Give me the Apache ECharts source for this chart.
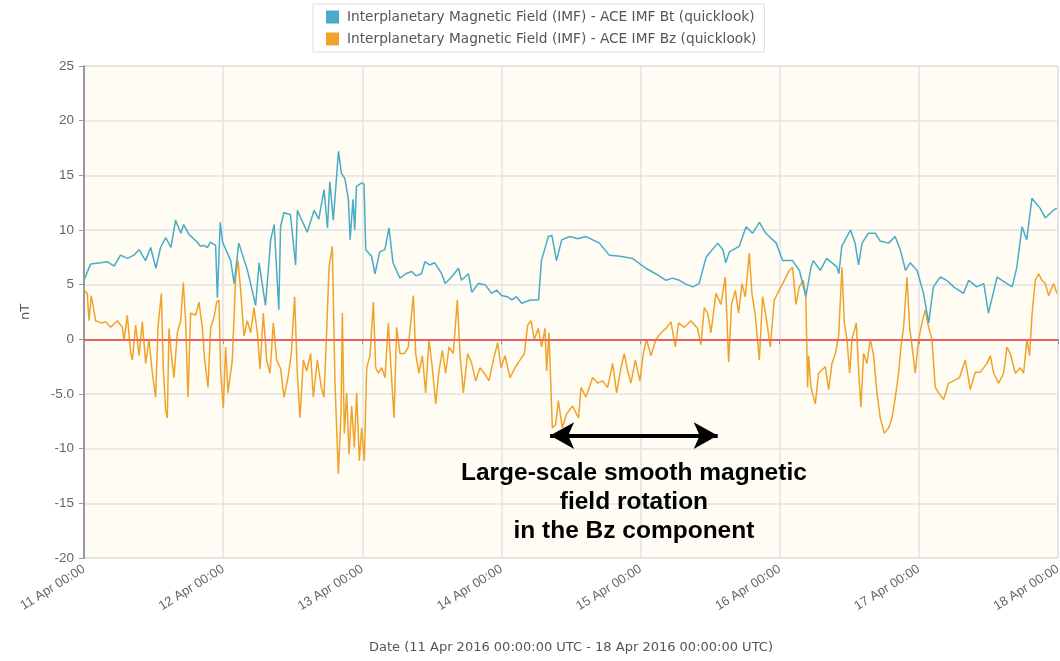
<!DOCTYPE html>
<html>
<head>
<meta charset="utf-8">
<script src="https://cdn.jsdelivr.net/npm/echarts@6/dist/echarts.min.js"></script>
<style>html,body{margin:0;padding:0;background:#fff;overflow:hidden}#c{width:1060px;height:661px}</style>
</head>
<body>
<div id="c"></div>
<script>
// hours since 11 Apr 2016 00:00 UTC, value in nT
const btData = [
[0,5.4],[1.15,6.9],[2.9,7.0],[4.0,7.1],[5.2,6.7],[6.3,7.7],[7.5,7.4],[8.6,7.7],[9.5,8.2],[10.6,7.2],[11.5,8.4],[12.4,6.5],[13.2,8.4],[14.1,9.3],[15,8.4],[15.8,10.9],[16.1,11.0],[16.7,9.7],[17.2,10.5],[18.1,9.6],[19.5,8.9],[20.1,8.5],[20.7,8.6],[21.3,8.4],[21.8,8.9],[22.7,8.6],[23,3.8],[23.5,10.7],[23.9,8.9],[25.3,7.2],[25.9,5.1],[26.7,8.8],[28.2,6.3],[29.6,3.1],[30.2,7.0],[31.3,3.1],[32.2,9.1],[32.8,10.5],[33.6,2.7],[33.9,10.3],[34.5,11.6],[35.6,11.4],[36.5,6.8],[36.8,11.8],[38.5,9.8],[39.7,11.8],[40.5,11.0],[41.4,13.7],[42,10.2],[42.4,14.4],[43,10.9],[43.9,17.2],[44.4,15.2],[45,14.7],[45.6,12.8],[45.9,9.1],[46.4,12.8],[46.7,10.0],[47,14.0],[47.9,14.3],[48.3,14.2],[48.6,8.2],[49.6,7.6],[50.2,6.0],[51,8.0],[51.9,8.2],[52.6,10.2],[53.3,7.0],[54.5,5.6],[55.5,6.0],[56.5,6.2],[57.3,5.8],[58.2,6.0],[58.8,7.1],[59.6,6.8],[60.5,7.0],[61.7,6.0],[62.3,5.1],[63.4,5.7],[64.6,6.5],[65.1,5.4],[66.3,6.0],[66.9,4.3],[68,5.1],[69.2,5.0],[70.3,4.2],[71.2,4.5],[72,4.0],[73,3.9],[73.8,3.6],[74.6,3.9],[75.5,3.3],[77,3.6],[78.4,3.6],[78.9,7.2],[80.1,9.4],[80.7,9.5],[81.5,7.2],[82.4,9.1],[83.8,9.4],[85.2,9.2],[86.6,9.4],[88.9,8.8],[90.6,7.7],[92.5,7.6],[94.6,7.4],[96.9,6.5],[98.6,6.0],[100.4,5.4],[101.5,5.6],[102.7,5.4],[104,5.0],[105,4.8],[106.1,5.1],[107.3,7.5],[109.3,8.8],[110.2,8.2],[110.7,7.0],[111.3,8.0],[113,8.5],[114.2,10.3],[115.3,9.7],[116.5,10.7],[117.6,9.7],[119.4,8.8],[120.5,7.2],[122.2,7.2],[123.4,6.3],[124.5,3.9],[125.4,6.6],[125.8,7.2],[127,6.3],[128.1,7.4],[129.9,6.6],[130.2,6.0],[130.7,8.5],[132.2,10.0],[133,8.8],[133.6,6.8],[134.2,8.8],[135.3,9.7],[136.5,9.7],[137.3,9.0],[138.8,8.8],[139.9,9.4],[140.8,8.2],[141.7,6.3],[142.5,7.0],[143.7,6.3],[144.8,4.2],[145.7,1.5],[146.5,4.8],[147.7,5.7],[148.8,5.4],[150,4.8],[151.7,4.2],[152.6,5.4],[154,4.8],[155.2,5.1],[156,2.4],[157.5,5.7],[159.2,5.1],[160.1,4.8],[160.9,6.6],[161.8,10.3],[162.6,9.1],[163.5,12.9],[164.9,12.0],[165.8,11.1],[167.2,11.8],[167.8,12.0]
];
const bzData = [
[0,4.5],[0.57,4.2],[0.86,1.7],[1.26,4.0],[2.01,1.7],[2.87,1.5],[3.74,1.6],[4.6,1.1],[5.75,1.7],[6.61,1.1],[6.9,-0.1],[7.47,2.2],[8.05,-1.3],[8.34,-1.9],[8.91,1.3],[9.49,-1.5],[10.06,1.6],[10.64,-2.2],[11.21,0],[11.79,-3.1],[12.36,-5.3],[12.76,1.1],[13.34,4.2],[13.68,-2.7],[14.09,-6.5],[14.37,-7.2],[14.66,1.0],[15.06,-1.3],[15.52,-3.5],[16.1,0.6],[16.67,1.7],[17.13,5.2],[17.53,1.7],[17.94,-5.3],[18.4,2.4],[19.26,2.2],[19.83,3.4],[20.41,1.1],[20.81,-1.9],[21.39,-4.4],[21.85,1.1],[22.42,2.0],[22.88,3.4],[23.28,3.6],[23.57,-2.9],[24.03,-6.3],[24.43,-0.7],[24.84,-4.9],[25.58,-1.9],[26.16,5.7],[26.56,7.2],[27.02,4.5],[27.6,0.3],[28.17,1.7],[28.75,0.6],[29.32,2.9],[29.9,0.6],[30.36,-2.7],[30.93,2.4],[31.51,-1.9],[32.08,-3.1],[32.66,1.5],[33.23,-1.9],[33.92,-2.7],[34.5,-5.3],[35.18,-3.5],[35.76,-1.3],[36.33,3.9],[36.79,-3.1],[37.25,-7.2],[37.83,-1.9],[38.4,-2.9],[39.09,-1.3],[39.55,-5.3],[40.24,-1.9],[40.93,-4.4],[41.39,-5.3],[41.85,0.6],[42.26,6.6],[42.83,8.5],[43.29,-4.0],[43.87,-12.3],[44.33,-6.8],[44.56,2.4],[44.9,-8.6],[45.31,-4.9],[45.71,-10.5],[46.17,-6.1],[46.63,-9.9],[47.03,-4.9],[47.49,-11.1],[47.89,-8.1],[48.35,-11.1],[48.76,-2.6],[49.33,-1.5],[49.91,3.4],[50.31,-2.6],[50.77,-3.1],[51.34,-2.6],[51.92,-3.5],[52.49,1.5],[52.95,-2.6],[53.47,-7.2],[53.93,1.1],[54.5,-1.3],[55.25,-1.3],[55.94,-0.7],[56.81,4.0],[57.21,-1.3],[57.78,-3.1],[58.36,-1.5],[58.93,-4.9],[59.51,0],[60.08,-2.6],[60.66,-5.9],[61.23,-2.9],[61.81,-1.0],[62.38,-3.1],[62.96,-0.7],[63.7,-1.3],[64.39,3.6],[64.85,-1.3],[65.43,-4.9],[66.18,-1.3],[66.87,-2.2],[67.56,-3.8],[68.3,-2.6],[69.05,-3.1],[69.86,-3.8],[70.6,-1.9],[71.35,-0.3],[71.93,-2.6],[72.62,-1.5],[73.48,-3.5],[74.34,-2.6],[75.2,-1.9],[75.95,-1.3],[76.53,1.3],[77.1,1.7],[77.68,0],[78.36,1.0],[78.94,-0.7],[79.51,1.0],[79.8,-2.9],[80.2,0.6],[80.78,-8.1],[81.35,-7.8],[81.81,-5.6],[82.5,-8.1],[83.25,-6.8],[84.28,-6.1],[85.31,-7.2],[85.72,-4.4],[86.58,-5.3],[87.73,-3.5],[88.59,-4.0],[89.45,-3.8],[90.32,-4.4],[91.18,-2.2],[91.87,-4.9],[92.62,-2.6],[93.19,-1.3],[93.77,-2.9],[94.34,-4.0],[95.09,-1.9],[95.89,-3.8],[96.47,-1.3],[97.04,0],[97.79,-1.5],[98.65,0],[99.52,0.6],[100.38,1.0],[101.24,1.6],[101.99,-0.7],[102.56,1.5],[103.54,1.1],[104.69,1.7],[105.84,1.0],[106.41,-0.5],[106.99,2.9],[107.56,2.4],[108.14,0.6],[109.0,4.2],[109.86,3.2],[110.61,5.7],[111.19,-2.1],[111.7,3.2],[112.34,4.5],[112.91,2.4],[113.49,5.1],[114.06,3.9],[114.75,7.9],[115.21,4.2],[115.79,2.2],[116.48,-1.9],[117.05,3.9],[117.62,2.2],[118.37,-0.7],[119.06,3.6],[119.92,4.5],[120.79,5.4],[121.65,6.3],[122.22,6.6],[122.8,3.2],[123.37,4.8],[124.06,5.4],[124.5,4.0],[124.81,-4.4],[124.99,-1.5],[125.39,-4.4],[126.14,-5.9],[126.71,-3.1],[127.29,-2.8],[127.86,-2.5],[128.44,-4.6],[129.01,-2.2],[129.59,-1.3],[130.16,0.3],[130.74,6.6],[131.14,1.5],[131.6,0],[132.06,-3.1],[132.46,0],[133.21,1.5],[133.61,-2.9],[134.01,-6.2],[134.47,-1.3],[135.05,-2.2],[135.62,0],[136.2,-1.5],[136.77,-4.9],[137.35,-7.2],[138.04,-8.6],[138.79,-8.1],[139.36,-7.2],[139.94,-5.3],[140.51,-3.1],[140.91,-0.7],[141.37,1.1],[141.95,5.7],[142.41,1.1],[142.98,-1.3],[143.38,-3.1],[143.96,0],[144.53,1.5],[145.11,2.7],[145.68,1.1],[146.26,0],[146.83,-4.4],[147.41,-4.9],[148.27,-5.5],[149.13,-4.0],[149.99,-3.8],[151.03,-3.5],[152.01,-1.9],[152.87,-4.6],[153.73,-3.0],[154.6,-3.0],[155.75,-2.2],[156.32,-1.5],[156.9,-3.1],[157.76,-4.0],[158.62,-3.1],[159.19,-0.7],[159.77,-1.3],[160.63,-3.1],[161.5,-2.6],[162.07,-3.1],[162.64,0],[163.1,-1.5],[163.51,2.2],[164.08,5.4],[164.66,6.0],[165.23,5.4],[165.81,5.1],[166.38,4.0],[167.24,5.1],[167.82,4.2]
];
const xTickLabels = ['11 Apr 00:00','12 Apr 00:00','13 Apr 00:00','14 Apr 00:00','15 Apr 00:00','16 Apr 00:00','17 Apr 00:00','18 Apr 00:00'];
const seriesNames = ['Interplanetary Magnetic Field (IMF) - ACE IMF Bt (quicklook)','Interplanetary Magnetic Field (IMF) - ACE IMF Bz (quicklook)'];
const arrowSpan = [80.4, 109.3];
const arrowLevel = -8.8;
const annotationLines = ['Large-scale smooth magnetic','field rotation','in the Bz component'];

const chart = echarts.init(document.getElementById('c'), null, {renderer:'canvas', width:1060, height:661});
const font = 'DejaVu Sans';
chart.setOption({
  animation:false,
  backgroundColor:'#ffffff',
  legend:{
    orient:'vertical', left:313, top:4,
    itemWidth:13, itemHeight:13, itemGap:8, icon:'rect',
    borderColor:'#dddddd', borderWidth:1, padding:[6,8,6,13],
    textStyle:{fontFamily:font, fontSize:13.7, color:'#555', padding:[0,0,0,3]},
    data:seriesNames
  },
  grid:{left:84, right:2, top:66, bottom:103, outerBoundsMode:'none', containLabel:false,
    show:true, backgroundColor:'#fefcf3', borderColor:'#cccccc', borderWidth:1},
  xAxis:{
    type:'value', min:0, max:168, interval:24,
    name:'Date (11 Apr 2016 00:00:00 UTC - 18 Apr 2016 00:00:00 UTC)',
    nameLocation:'middle', nameGap:83,
    nameTextStyle:{fontFamily:font, fontSize:13, color:'#555'},
    axisLine:{lineStyle:{color:'#999', width:2}},
    axisTick:{show:true, length:5, lineStyle:{color:'#999'}},
    axisLabel:{rotate:32, fontFamily:'Liberation Sans', fontSize:13, color:'#666', margin:10,
      formatter:function(v){return xTickLabels[Math.round(v/24)];}},
    splitLine:{show:true, lineStyle:{color:'#e3e3e3', width:1.5}}
  },
  yAxis:{
    type:'value', min:-20, max:25, interval:5,
    name:'nT', nameLocation:'middle', nameGap:52, nameRotate:90,
    nameTextStyle:{fontFamily:font, fontSize:13, color:'#555'},
    axisLine:{show:true, lineStyle:{color:'#999', width:2}},
    axisTick:{show:true, length:5, lineStyle:{color:'#999'}},
    axisLabel:{fontFamily:'Liberation Sans', fontSize:13.5, color:'#666', margin:10,
      formatter:function(v){return v===-5?'-5.0':String(v);}},
    splitLine:{show:true, lineStyle:{color:'#e3e3e3', width:1.5}}
  },
  series:[
    {name:seriesNames[0], type:'line', data:btData, showSymbol:false, symbol:'none',
     color:'#4aabc7', lineStyle:{width:1.5, color:'#4aabc7'}, z:3},
    {name:seriesNames[1], type:'line', data:bzData, showSymbol:false, symbol:'none',
     color:'#f0a32a', lineStyle:{width:1.5, color:'#f0a32a'}, z:2,
     markLine:{silent:true, symbol:['none','none'], label:{show:false},
       lineStyle:{color:'#ff5050', width:1.5, type:'solid'}, data:[{yAxis:0}]}},
    {name:'annotation', type:'line', data:[], z:5,
     markLine:{silent:true, symbol:['arrow','arrow'], symbolSize:[20,24], label:{show:false},
       lineStyle:{color:'#000', width:4, type:'solid'},
       data:[[{coord:[arrowSpan[0],arrowLevel]},{coord:[arrowSpan[1],arrowLevel]}]]}}
  ]
});
const px = chart.convertToPixel({gridIndex:0}, [(arrowSpan[0]+arrowSpan[1])/2, arrowLevel]);
chart.setOption({graphic:[{type:'text', x:px[0], y:459, z:10, silent:true,
  style:{text:annotationLines.join('\n'), textAlign:'center', textVerticalAlign:'top',
    fontFamily:'Liberation Sans', fontWeight:'bold', fontSize:24.5, lineHeight:29, fill:'#000'}}]});
</script>
</body>
</html>
